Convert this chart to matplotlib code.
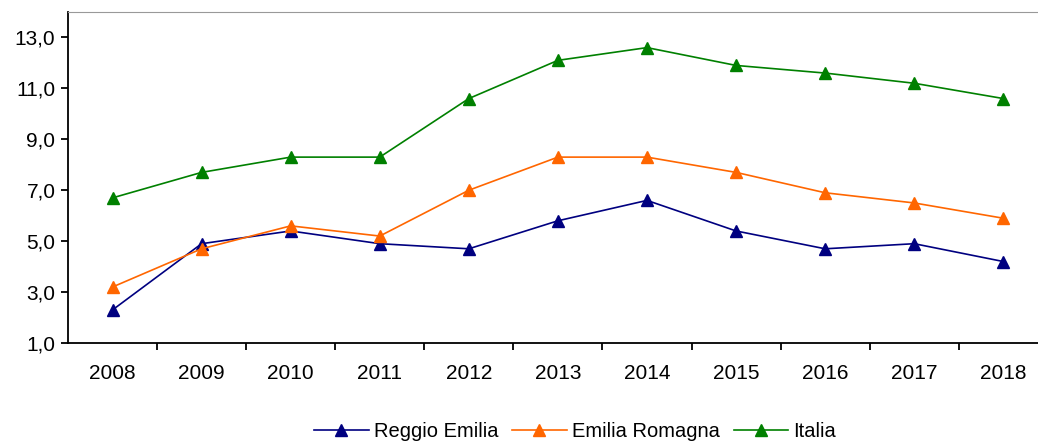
import matplotlib.pyplot as plt
from matplotlib.ticker import FuncFormatter

plt.rcParams['font.family'] = ['Liberation Sans', 'DejaVu Sans']

years = ['2008', '2009', '2010', '2011', '2012', '2013', '2014', '2015', '2016', '2017', '2018']
reggio = [2.3, 4.9, 5.4, 4.9, 4.7, 5.8, 6.6, 5.4, 4.7, 4.9, 4.2]
emilia = [3.2, 4.7, 5.6, 5.2, 7.0, 8.3, 8.3, 7.7, 6.9, 6.5, 5.9]
italia = [6.7, 7.7, 8.3, 8.3, 10.6, 12.1, 12.6, 11.9, 11.6, 11.2, 10.6]

series = [
    ('Reggio Emilia', reggio, '#000080'),
    ('Emilia Romagna', emilia, '#FF6600'),
    ('Italia', italia, '#008000'),
]

fig = plt.figure(figsize=(10.38, 4.43), dpi=100)
ax = fig.add_axes([0.0655, 0.2257, 0.944, 0.7473])

x = range(len(years))
for name, vals, col in series:
    ax.plot(x, vals, color=col, lw=1.2, marker='^', markersize=9, label=name)

ax.set_xlim(-0.5, len(years) - 0.5)
ax.set_ylim(1, 14)
ax.set_yticks([1, 3, 5, 7, 9, 11, 13])
ax.yaxis.set_major_formatter(FuncFormatter(lambda v, p: f'{v:.1f}'.replace('.', ',')))

# category labels centred, tick marks between categories
ax.set_xticks([i + 0.5 for i in x])
ax.set_xticklabels([])
ax.set_xticks(list(x), minor=True)
ax.set_xticklabels(years, minor=True)
ax.tick_params(axis='x', which='minor', length=0, pad=15, labelsize=15)
ax.tick_params(axis='x', which='major', length=5, width=1.3, direction='out')
ax.tick_params(axis='y', length=5, width=1.3, direction='out', labelsize=15, pad=4)

ax.spines['right'].set_visible(False)
ax.spines['top'].set_color('#999999')
ax.spines['left'].set_linewidth(1.3)
ax.spines['bottom'].set_linewidth(1.3)

fig.legend(loc='center', bbox_to_anchor=(0.554, 0.025), ncol=3, frameon=False,
           fontsize=14.5, handlelength=2.7, handletextpad=0.25, columnspacing=0.7)

fig.savefig('out.png', dpi=100)
